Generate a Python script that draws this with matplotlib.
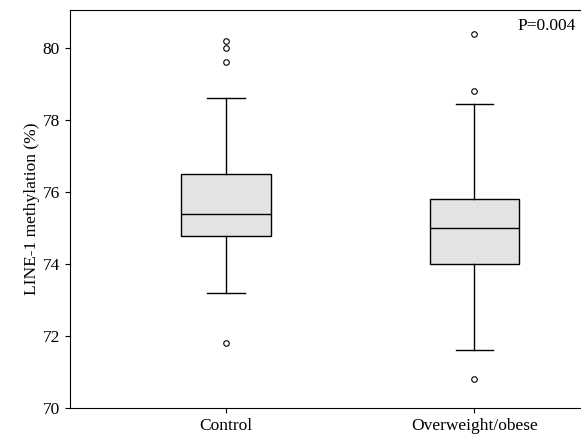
import matplotlib.pyplot as plt

plt.rcParams['font.family'] = ['Liberation Serif', 'DejaVu Serif']

groups = ["Control", "Overweight/obese"]
whislo = [73.2, 71.6]
q1 = [74.78, 74.0]
med = [75.4, 75.0]
q3 = [76.5, 75.8]
whishi = [78.6, 78.45]
fliers = [[80.2, 80.0, 79.6, 71.8], [80.4, 78.8, 70.8]]

stats = []
for i, g in enumerate(groups):
    stats.append(dict(label=g, whislo=whislo[i], q1=q1[i], med=med[i],
                      q3=q3[i], whishi=whishi[i], fliers=fliers[i]))

fig, ax = plt.subplots(figsize=(5.81, 4.45), dpi=100)
fig.subplots_adjust(left=0.12, right=1.0, top=0.978, bottom=0.083)

ax.bxp(stats, positions=[1, 2], widths=0.36, patch_artist=True,
       boxprops=dict(facecolor='#e3e3e3', edgecolor='black', linewidth=1),
       medianprops=dict(color='black', linewidth=1),
       whiskerprops=dict(color='black', linewidth=1),
       capprops=dict(color='black', linewidth=1),
       capwidths=0.15,
       flierprops=dict(marker='o', markersize=4, markerfacecolor='white',
                       markeredgecolor='black', markeredgewidth=0.8))

ax.spines['right'].set_visible(False)
ax.set_xlim(0.371, 2.43)
ax.set_ylim(70, 81.06)
ax.set_yticks([70, 72, 74, 76, 78, 80])
ax.set_ylabel('LINE-1 methylation (%)', fontsize=12.5, labelpad=2)
ax.tick_params(labelsize=12.5)
ax.text(0.99, 0.98, 'P=0.004', transform=ax.transAxes, ha='right', va='top', fontsize=12.5)

plt.savefig('out.png')
